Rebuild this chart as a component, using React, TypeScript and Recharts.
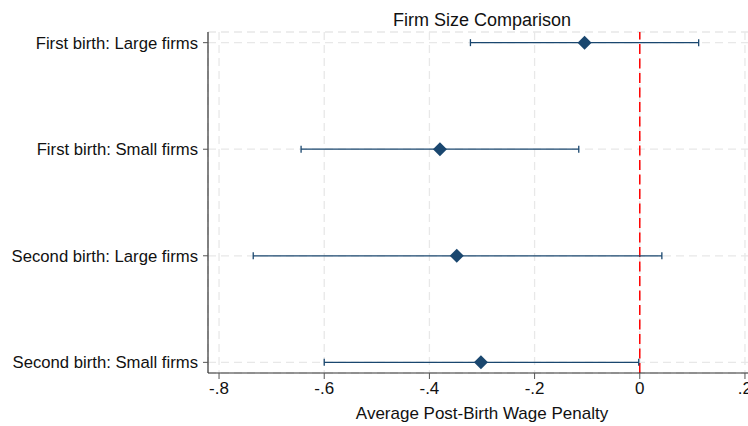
import React from "react";
import {
  ScatterChart,
  Scatter,
  XAxis,
  YAxis,
  CartesianGrid,
  ErrorBar,
  ReferenceLine,
  Customized,
} from "recharts";

const groups = [
  "First birth: Large firms",
  "First birth: Small firms",
  "Second birth: Large firms",
  "Second birth: Small firms",
];
const positions = [1, 2, 3, 4];
const estimates = [-0.105, -0.38, -0.348, -0.302];
const lower = [-0.322, -0.644, -0.735, -0.6];
const upper = [0.112, -0.116, 0.042, -0.002];
const xTicks = [-0.8, -0.6, -0.4, -0.2, 0, 0.2];

const data = groups.map((g, i) => ({
  name: g,
  pos: positions[i],
  est: estimates[i],
  err: [estimates[i] - lower[i], upper[i] - estimates[i]],
}));

const NAVY = "#1a476f";
const FONT = "'Liberation Sans', Arial, Helvetica, sans-serif";

const fmt = (v: number) => {
  if (Math.abs(v) < 1e-9) return "0";
  const s = v.toFixed(1);
  return s.replace("0.", ".");
};

const Diamond = (props: any) => {
  const { cx, cy } = props;
  const r = 7;
  return (
    <polygon
      points={`${cx},${cy - r} ${cx + r},${cy} ${cx},${cy + r} ${cx - r},${cy}`}
      fill={NAVY}
    />
  );
};

export default function App() {
  return (
    <div
      style={{
        position: "absolute",
        left: 0,
        top: 0,
        width: 748,
        height: 426,
        overflow: "hidden",
        background: "#fff",
      }}
    >
      <ScatterChart
        width={780}
        height={426}
        margin={{ top: 32, right: 24, bottom: 0, left: 0 }}
        style={{ fontFamily: FONT }}
      >
        <CartesianGrid stroke="#e8e8e8" strokeDasharray="8 5" strokeWidth={1.3} />
        <XAxis
          type="number"
          dataKey="est"
          domain={[-0.821, 0.221]}
          ticks={xTicks}
          tickFormatter={fmt}
          allowDataOverflow
          height={53}
          tickSize={6}
          tickMargin={3}
          axisLine={{ stroke: "#333", strokeWidth: 1.2 }}
          tickLine={{ stroke: "#555" }}
          tick={{ fill: "#111", fontSize: 17, fontFamily: FONT }}
        />
        <YAxis
          type="number"
          dataKey="pos"
          domain={[0.9, 4.1]}
          reversed
          ticks={positions}
          tickFormatter={(v: number) => groups[positions.indexOf(v)] ?? ""}
          allowDataOverflow
          width={208}
          tickSize={5}
          tickMargin={5}
          axisLine={{ stroke: "#333", strokeWidth: 1.2 }}
          tickLine={{ stroke: "#555" }}
          tick={{ fill: "#111", fontSize: 16.7, fontFamily: FONT }}
        />
        <ReferenceLine x={0} stroke="#ff0000" strokeWidth={1.5} strokeDasharray="10 4.5" />
        <Scatter data={data} shape={<Diamond />} isAnimationActive={false}>
          <ErrorBar
            dataKey="err"
            direction="x"
            width={3.5}
            stroke={NAVY}
            strokeWidth={1.3}
            isAnimationActive={false}
          />
        </Scatter>
        <Customized
          component={() => (
            <g>
              <text
                x={482}
                y={26}
                textAnchor="middle"
                fontSize={18}
                fill="#111"
                fontFamily={FONT}
              >
                Firm Size Comparison
              </text>
              <text
                x={482}
                y={419}
                textAnchor="middle"
                fontSize={17}
                fill="#111"
                fontFamily={FONT}
              >
                Average Post-Birth Wage Penalty
              </text>
            </g>
          )}
        />
      </ScatterChart>
    </div>
  );
}
